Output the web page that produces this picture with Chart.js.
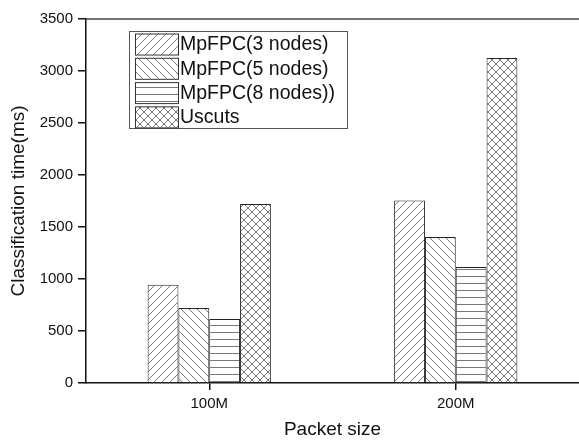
<!DOCTYPE html>
<html>
<head>
<meta charset="utf-8">
<script src="https://cdn.jsdelivr.net/npm/chart.js@4.4.0/dist/chart.umd.min.js"></script>
<style>
  html, body { margin: 0; padding: 0; background: #fff; }
</style>
</head>
<body>
<canvas id="chart" width="579" height="441"></canvas>
<script>
// data
const categories = ['100M', '200M'];
const seriesNames = ['MpFPC(3 nodes)', 'MpFPC(5 nodes)', 'MpFPC(8 nodes))', 'Uscuts'];
const mpfpc3 = [945, 1755];
const mpfpc5 = [720, 1405];
const mpfpc8 = [615, 1115];
const uscuts = [1720, 3125];
const yMin = 0, yMax = 3500, yStep = 500;

const FONT = '"Liberation Sans", Arial, sans-serif';

// hatch fills
function makePattern(kind) {
  const s = kind === 'horiz' ? 7 : 8;
  const c = document.createElement('canvas');
  c.width = s; c.height = s;
  const g = c.getContext('2d');
  g.fillStyle = '#fff';
  g.fillRect(0, 0, s, s);
  g.strokeStyle = '#555';
  g.lineWidth = 0.8;
  g.beginPath();
  if (kind === 'fwd' || kind === 'cross') {
    g.moveTo(-1, s + 1); g.lineTo(s + 1, -1);
    g.moveTo(-1, 1); g.lineTo(1, -1);
    g.moveTo(s - 1, s + 1); g.lineTo(s + 1, s - 1);
  }
  if (kind === 'back' || kind === 'cross') {
    g.moveTo(-1, -1); g.lineTo(s + 1, s + 1);
    g.moveTo(s - 1, -1); g.lineTo(s + 1, 1);
    g.moveTo(-1, s - 1); g.lineTo(1, s + 1);
  }
  if (kind === 'horiz') {
    g.moveTo(0, s / 2); g.lineTo(s, s / 2);
  }
  g.stroke();
  return g.createPattern(c, 'repeat');
}

const fills = [makePattern('fwd'), makePattern('back'), makePattern('horiz'), makePattern('cross')];
const seriesData = [mpfpc3, mpfpc5, mpfpc8, uscuts];

// top frame line + legend inside the plot
const framePlugin = {
  id: 'frame',
  afterDraw(chart) {
    const ctx = chart.ctx;
    const a = chart.chartArea;
    ctx.save();
    ctx.strokeStyle = '#444';
    ctx.lineWidth = 1.5;
    ctx.beginPath();
    ctx.moveTo(a.left, a.top);
    ctx.lineTo(a.right, a.top);
    ctx.stroke();

    // legend
    const lx = a.left + 43, ly = a.top + 12;
    const lw = 218, lh = 97;
    ctx.strokeStyle = '#555';
    ctx.lineWidth = 1;
    ctx.strokeRect(lx + 0.5, ly + 0.5, lw, lh);
    ctx.font = '19.5px ' + FONT;
    ctx.textBaseline = 'middle';
    chart.data.datasets.forEach((ds, i) => {
      const sx = lx + 6, sy = ly + 2.5 + i * 24.3;
      ctx.fillStyle = ds.backgroundColor;
      ctx.fillRect(sx, sy, 43, 21);
      ctx.strokeStyle = '#333';
      ctx.strokeRect(sx + 0.5, sy + 0.5, 43, 21);
      ctx.fillStyle = '#111';
      ctx.fillText(ds.label, sx + 45, sy + 11.5);
    });
    ctx.restore();
  }
};

new Chart(document.getElementById('chart').getContext('2d'), {
  type: 'bar',
  data: {
    labels: categories,
    datasets: seriesNames.map((name, i) => ({
      label: name,
      data: seriesData[i],
      backgroundColor: fills[i],
      borderColor: '#222',
      borderWidth: 1,
      barPercentage: 1,
      categoryPercentage: 0.5
    }))
  },
  options: {
    responsive: false,
    animation: false,
    devicePixelRatio: 1,
    layout: { padding: { top: 19, right: 0, left: 0, bottom: 0 } },
    plugins: {
      legend: { display: false },
      tooltip: { enabled: false }
    },
    scales: {
      x: {
        offset: true,
        grid: { offset: false, drawOnChartArea: false, drawTicks: true, tickLength: 7, color: '#111', lineWidth: 1.5 },
        border: { color: '#111', width: 1.5 },
        ticks: { color: '#111', font: { family: FONT, size: 15 }, padding: 5 },
        title: { display: true, text: 'Packet size', color: '#111', font: { family: FONT, size: 19 }, padding: { top: 6, bottom: 0 } },
        afterFit(scale) { scale.height = 58; }
      },
      y: {
        min: yMin,
        max: yMax,
        grid: { drawOnChartArea: false, drawTicks: true, tickLength: 8, color: '#111', lineWidth: 1.5 },
        border: { color: '#111', width: 1.5 },
        ticks: { stepSize: yStep, color: '#111', font: { family: FONT, size: 15 }, padding: 5, callback: v => String(v) },
        title: { display: true, text: 'Classification time(ms)', color: '#111', font: { family: FONT, size: 19 }, padding: { top: 7, bottom: 0 } },
        afterFit(scale) { scale.width = 86; }
      }
    }
  },
  plugins: [framePlugin]
});
</script>
</body>
</html>
